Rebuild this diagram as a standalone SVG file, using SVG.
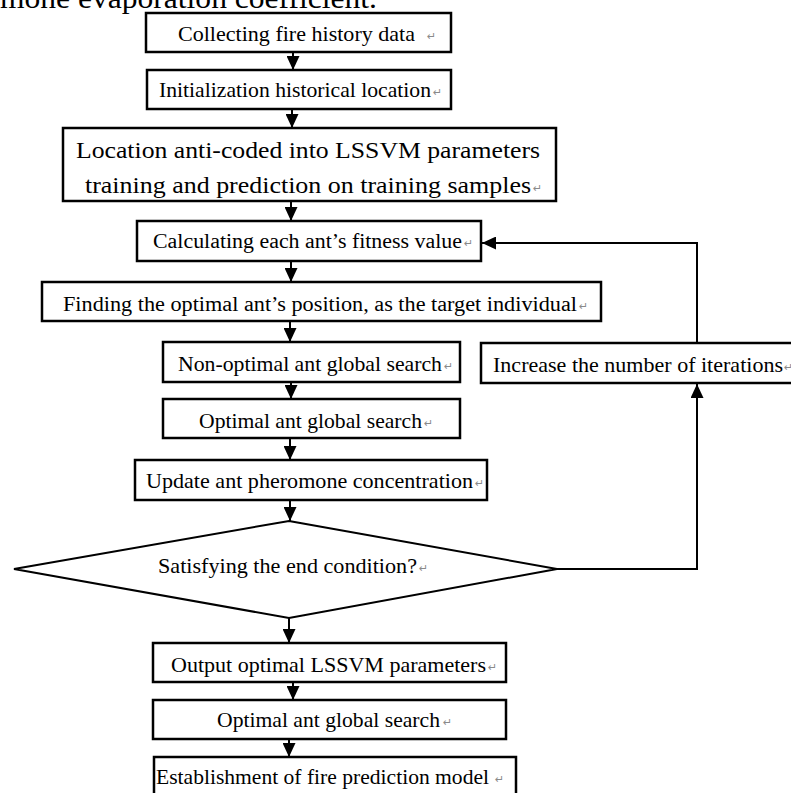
<svg xmlns="http://www.w3.org/2000/svg" width="791" height="793" viewBox="0 0 791 793">
<style>
.box{fill:#fff;stroke:#000;stroke-width:2.5}
.dia{fill:#fff;stroke:#000;stroke-width:2}
.t{font-family:"Liberation Serif","Times New Roman",serif;fill:#000}
.pm{font-family:"DejaVu Sans",sans-serif;font-size:11px;fill:#8a8a8a}
.c{fill:none;stroke:#000;stroke-width:2}
</style>
<defs>
<marker id="ah" viewBox="0 0 14 13" refX="14" refY="6.5" markerWidth="14" markerHeight="13" markerUnits="userSpaceOnUse" orient="auto">
<path d="M0,0 L14,6.5 L0,13 z" fill="#000"/>
</marker>
</defs>
<rect width="791" height="793" fill="#fff"/>
<text class="t" x="0" y="7.5" font-size="30" textLength="377" lengthAdjust="spacingAndGlyphs">mone evaporation coefficient.</text>

<g id="connectors">
<line class="c" x1="293" y1="53" x2="293" y2="70" marker-end="url(#ah)"/>
<line class="c" x1="292" y1="109" x2="292" y2="128" marker-end="url(#ah)"/>
<line class="c" x1="291" y1="201" x2="291" y2="221" marker-end="url(#ah)"/>
<line class="c" x1="291" y1="261" x2="291" y2="282" marker-end="url(#ah)"/>
<line class="c" x1="290" y1="321" x2="290" y2="342" marker-end="url(#ah)"/>
<line class="c" x1="291" y1="382" x2="291" y2="399" marker-end="url(#ah)"/>
<line class="c" x1="290" y1="438" x2="290" y2="460" marker-end="url(#ah)"/>
<line class="c" x1="290" y1="500" x2="290" y2="521" marker-end="url(#ah)"/>
<line class="c" x1="289" y1="618" x2="289" y2="643" marker-end="url(#ah)"/>
<line class="c" x1="293" y1="682" x2="293" y2="700" marker-end="url(#ah)"/>
<line class="c" x1="289" y1="739" x2="289" y2="757" marker-end="url(#ah)"/>
<polyline class="c" points="557,569 697,569 697,384" marker-end="url(#ah)"/>
<polyline class="c" points="697,343 697,243 482,243" marker-end="url(#ah)"/>
</g>

<g id="n1">
<rect class="box" x="146" y="13" width="305" height="39"/>
<text class="t" x="178" y="41" font-size="21" textLength="237" lengthAdjust="spacingAndGlyphs">Collecting fire history data</text>
<text class="pm" x="427" y="40">↵</text>
</g>
<g id="n2">
<rect class="box" x="147" y="70" width="304" height="39"/>
<text class="t" x="159" y="97" font-size="21" textLength="272" lengthAdjust="spacingAndGlyphs">Initialization historical location</text>
<text class="pm" x="433" y="96">↵</text>
</g>
<g id="n3">
<rect class="box" x="63" y="128" width="493" height="73"/>
<text class="t" x="76" y="158" font-size="24" textLength="464" lengthAdjust="spacingAndGlyphs">Location anti-coded into LSSVM parameters</text>
<text class="t" x="85" y="193" font-size="24" textLength="446" lengthAdjust="spacingAndGlyphs">training and prediction on training samples</text>
<text class="pm" x="533" y="192">↵</text>
</g>
<g id="n4">
<rect class="box" x="137" y="221" width="344" height="40"/>
<text class="t" x="153" y="248" font-size="20" textLength="309" lengthAdjust="spacingAndGlyphs">Calculating each ant’s fitness value</text>
<text class="pm" x="464" y="247">↵</text>
</g>
<g id="n5">
<rect class="box" x="42" y="282" width="559" height="39"/>
<text class="t" x="63" y="310.5" font-size="20" textLength="514" lengthAdjust="spacingAndGlyphs">Finding the optimal ant’s position, as the target individual</text>
<text class="pm" x="579" y="309.5">↵</text>
</g>
<g id="n6">
<rect class="box" x="163" y="342" width="297" height="40"/>
<text class="t" x="178" y="370.5" font-size="21" textLength="264" lengthAdjust="spacingAndGlyphs">Non-optimal ant global search</text>
<text class="pm" x="444" y="369.5">↵</text>
</g>
<g id="n7">
<rect class="box" x="163" y="399" width="297" height="39"/>
<text class="t" x="199" y="427.5" font-size="21" textLength="223" lengthAdjust="spacingAndGlyphs">Optimal ant global search</text>
<text class="pm" x="424" y="426.5">↵</text>
</g>
<g id="n8">
<rect class="box" x="135" y="460" width="352" height="40"/>
<text class="t" x="146" y="488" font-size="21" textLength="327" lengthAdjust="spacingAndGlyphs">Update ant pheromone concentration</text>
<text class="pm" x="475" y="487">↵</text>
</g>
<g id="n9">
<polygon class="dia" points="289,521 557,569 289,618 14,569"/>
<text class="t" x="158" y="573" font-size="21" textLength="259" lengthAdjust="spacingAndGlyphs">Satisfying the end condition?</text>
<text class="pm" x="419" y="572" font-size="9">↵</text>
</g>
<g id="n10">
<rect class="box" x="481" y="343" width="314" height="40"/>
<text class="t" x="493" y="371.5" font-size="21" textLength="290" lengthAdjust="spacingAndGlyphs">Increase the number of iterations</text>
<text class="pm" x="784" y="370.5">↵</text>
</g>
<g id="n11">
<rect class="box" x="153" y="643" width="353" height="39"/>
<text class="t" x="171" y="671.5" font-size="22" textLength="315" lengthAdjust="spacingAndGlyphs">Output optimal LSSVM parameters</text>
<text class="pm" x="488" y="670.5">↵</text>
</g>
<g id="n12">
<rect class="box" x="153" y="700" width="353" height="39"/>
<text class="t" x="217" y="727" font-size="22" textLength="223" lengthAdjust="spacingAndGlyphs">Optimal ant global search</text>
<text class="pm" x="443" y="726">↵</text>
</g>
<g id="n13">
<rect class="box" x="154" y="757" width="362" height="50"/>
<text class="t" x="156" y="784" font-size="22" textLength="333" lengthAdjust="spacingAndGlyphs">Establishment of fire prediction model</text>
<text class="pm" x="495" y="783">↵</text>
</g>
</svg>
